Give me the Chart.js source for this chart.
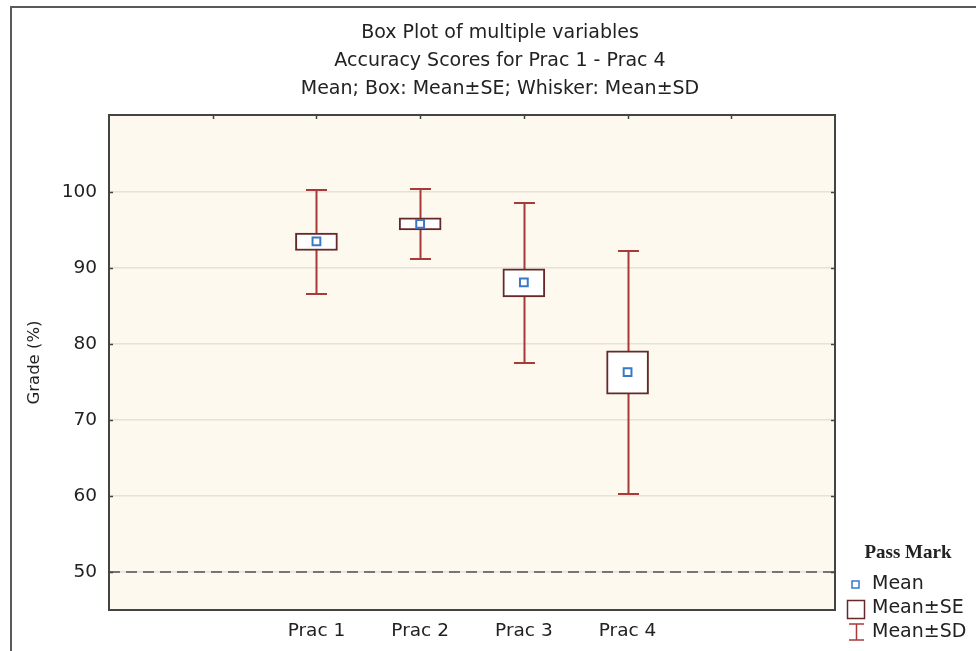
<!DOCTYPE html>
<html>
<head>
<meta charset="utf-8">
<script src="https://cdn.jsdelivr.net/npm/chart.js@4/dist/chart.umd.min.js"></script>
<style>
  html, body { margin: 0; padding: 0; background: #ffffff; }
  #wrap { position: relative; width: 976px; height: 651px; }
</style>
</head>
<body>
<div id="wrap"><canvas id="c"></canvas></div>
<script>
// ---- data ----
const categories = ['Prac 1', 'Prac 2', 'Prac 3', 'Prac 4'];
const positions = [1, 2, 3, 4];
const means  = [93.5, 95.8, 88.1, 76.3];
const seLow  = [92.3, 95.0, 86.2, 73.4];
const seHigh = [94.6, 96.6, 89.9, 79.1];
const sdLow  = [86.6, 91.2, 77.5, 60.2];
const sdHigh = [100.2, 100.35, 98.5, 92.3];
const passMark = 50;
const yTicks = [50, 60, 70, 80, 90, 100];
const topTicks = [0, 1, 2, 3, 4, 5];
const titleLines = ['Box Plot of multiple variables', 'Accuracy Scores for Prac 1 - Prac 4', 'Mean; Box: Mean\u00B1SE; Whisker: Mean\u00B1SD'];
const legendTitle = 'Pass Mark';
const legendLabels = ['Mean', 'Mean\u00B1SE', 'Mean\u00B1SD'];

const FONT = "'DejaVu Sans', 'Liberation Sans', sans-serif";
const WHISKER = '#a83a3a';
const BOXLINE = '#662828';
const MEANCOL = '#3a78c8';

const decorPlugin = {
  id: 'decor',
  beforeDraw(chart) {
    const ctx = chart.ctx, a = chart.chartArea;
    ctx.save();
    // outer frame (left + top)
    ctx.strokeStyle = '#5a5a5a';
    ctx.lineWidth = 2;
    ctx.beginPath();
    ctx.moveTo(11, 651); ctx.lineTo(11, 7); ctx.lineTo(976, 7);
    ctx.stroke();
    // plot background
    ctx.fillStyle = '#fdf9ee';
    ctx.fillRect(a.left, a.top, a.right - a.left, a.bottom - a.top);
    // title
    ctx.fillStyle = '#222';
    ctx.textAlign = 'center';
    ctx.textBaseline = 'middle';
    ctx.font = "19px " + FONT;
    titleLines.forEach((t, i) => ctx.fillText(t, 500, 33 + i * 28));
    ctx.restore();
  },
  beforeDatasetsDraw(chart) {
    const ctx = chart.ctx, xs = chart.scales.x, ys = chart.scales.y;
    ctx.save();
    ctx.strokeStyle = WHISKER;
    ctx.lineWidth = 2;
    positions.forEach((p, i) => {
      const x = Math.round(xs.getPixelForValue(p)) + 0.5;
      const yt = Math.round(ys.getPixelForValue(sdHigh[i]));
      const yb = Math.round(ys.getPixelForValue(sdLow[i]));
      ctx.beginPath();
      ctx.moveTo(x, yt); ctx.lineTo(x, yb);
      ctx.moveTo(x - 10.5, yt); ctx.lineTo(x + 10.5, yt);
      ctx.moveTo(x - 10.5, yb); ctx.lineTo(x + 10.5, yb);
      ctx.stroke();
    });
    ctx.restore();
  },
  afterDraw(chart) {
    const ctx = chart.ctx, a = chart.chartArea, xs = chart.scales.x, ys = chart.scales.y;
    ctx.save();
    // plot border
    ctx.strokeStyle = '#444444';
    ctx.lineWidth = 2;
    ctx.strokeRect(a.left, a.top, a.right - a.left, a.bottom - a.top);
    // small inward ticks
    ctx.lineWidth = 1.5;
    ctx.beginPath();
    topTicks.forEach(t => {
      const x = Math.round(xs.getPixelForValue(t)) + 0.5;
      ctx.moveTo(x, a.top); ctx.lineTo(x, a.top + 4);
    });
    yTicks.forEach(t => {
      const y = Math.round(ys.getPixelForValue(t)) + 0.5;
      ctx.moveTo(a.left, y); ctx.lineTo(a.left + 4, y);
      ctx.moveTo(a.right, y); ctx.lineTo(a.right - 4, y);
    });
    ctx.stroke();

    // legend
    ctx.fillStyle = '#222';
    ctx.textAlign = 'center';
    ctx.textBaseline = 'middle';
    ctx.font = "bold 19px 'Liberation Serif', 'Times New Roman', serif";
    ctx.fillText(legendTitle, 908, 553);
    ctx.font = "19px " + FONT;
    ctx.textAlign = 'left';
    // Mean marker
    ctx.fillStyle = '#ffffff';
    ctx.strokeStyle = MEANCOL;
    ctx.lineWidth = 1.5;
    ctx.fillRect(852, 581, 7, 7);
    ctx.strokeRect(852, 581, 7, 7);
    ctx.fillStyle = '#222';
    ctx.fillText(legendLabels[0], 872, 584);
    // SE box
    ctx.strokeStyle = BOXLINE;
    ctx.lineWidth = 1.5;
    ctx.strokeRect(847.5, 600.5, 17, 18);
    ctx.fillText(legendLabels[1], 872, 608);
    // SD whisker
    ctx.strokeStyle = WHISKER;
    ctx.beginPath();
    ctx.moveTo(849, 624); ctx.lineTo(864, 624);
    ctx.moveTo(856.5, 624); ctx.lineTo(856.5, 640);
    ctx.moveTo(849, 640); ctx.lineTo(864, 640);
    ctx.stroke();
    ctx.fillText(legendLabels[2], 872, 632);
    ctx.restore();
  }
};

new Chart(document.getElementById('c'), {
  type: 'bar',
  data: {
    datasets: [
      {
        type: 'line',
        data: [{ x: -1, y: passMark }, { x: 6, y: passMark }],
        borderColor: '#505050',
        borderWidth: 1.5,
        borderDash: [11, 6],
        pointRadius: 0,
        fill: false,
        order: 3
      },
      {
        type: 'bar',
        data: positions.map((p, i) => ({ x: p, y: [seLow[i], seHigh[i]] })),
        backgroundColor: '#ffffff',
        borderColor: BOXLINE,
        borderWidth: 2,
        borderSkipped: false,
        barThickness: 42,
        order: 2
      },
      {
        type: 'scatter',
        data: positions.map((p, i) => ({ x: p, y: means[i] })),
        pointStyle: 'rect',
        pointRadius: 5.5,
        pointBorderWidth: 2,
        pointBorderColor: MEANCOL,
        pointBackgroundColor: '#ffffff',
        showLine: false,
        order: 1
      }
    ]
  },
  options: {
    responsive: true,
    maintainAspectRatio: false,
    animation: false,
    layout: { padding: { left: 0, top: 115, right: 141, bottom: 0 } },
    plugins: {
      legend: { display: false },
      tooltip: { enabled: false },
      title: { display: false }
    },
    scales: {
      x: {
        type: 'linear',
        min: -1,
        max: 6,
        offset: false,
        grid: { display: false, offset: false, drawTicks: false },
        border: { display: false },
        afterBuildTicks(scale) { scale.ticks = positions.map(v => ({ value: v })); },
        afterFit(scale) { scale.height = 41; },
        ticks: {
          autoSkip: false,
          maxRotation: 0,
          padding: 10,
          color: '#222',
          font: { family: FONT, size: 18.5 },
          callback: (v) => categories[positions.indexOf(v)] || ''
        }
      },
      y: {
        type: 'linear',
        min: 45,
        max: 110.13,
        grid: { color: '#e6e2da', lineWidth: 1.5, drawTicks: false },
        border: { display: false },
        afterBuildTicks(scale) { scale.ticks = yTicks.map(v => ({ value: v })); },
        afterFit(scale) { scale.width = 109; },
        ticks: {
          padding: 12,
          color: '#222',
          font: { family: FONT, size: 18.5 }
        },
        title: {
          display: true,
          text: 'Grade (%)',
          color: '#222',
          font: { family: FONT, size: 16.5 },
          padding: { top: 25, bottom: 0 }
        }
      }
    }
  },
  plugins: [decorPlugin]
});
</script>
</body>
</html>
